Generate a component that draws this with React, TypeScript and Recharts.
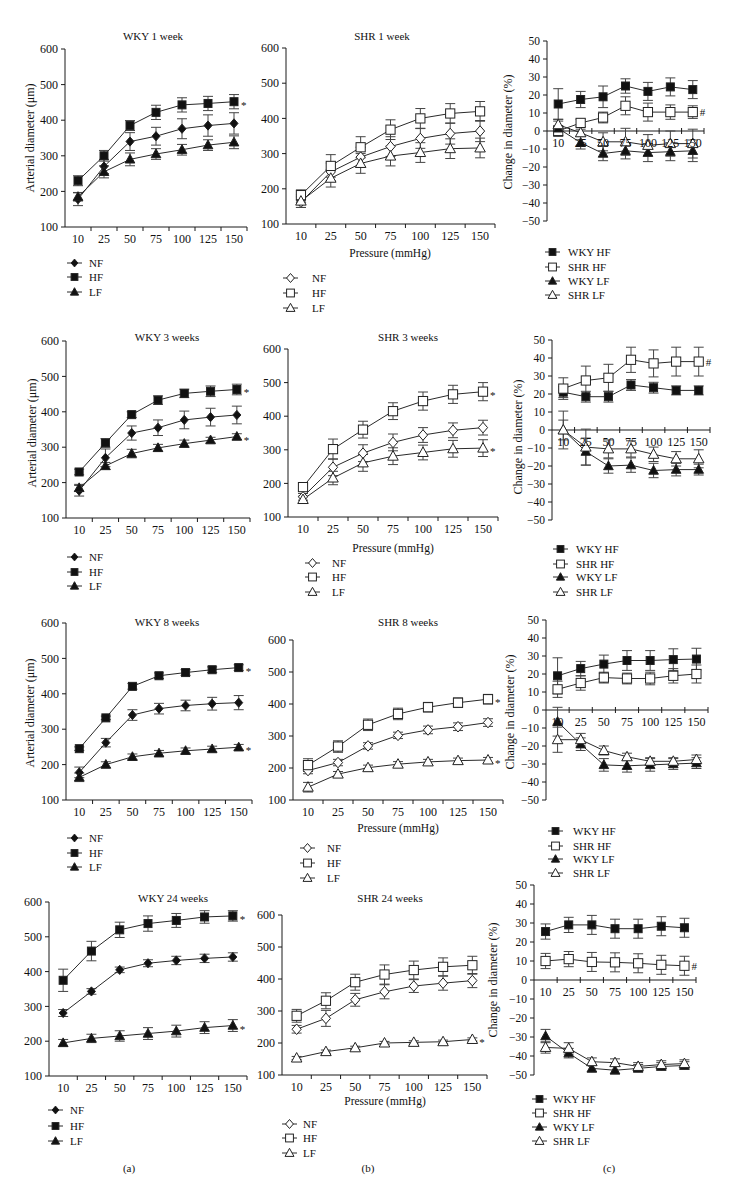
import { LineChart, Line, XAxis, YAxis, ErrorBar, ReferenceLine, LabelList } from "recharts";

const pressures = ["10", "25", "50", "75", "100", "125", "150"];

// WKY 1 week
const wky1NF = [178, 270, 340, 355, 376, 385, 391];
const wky1NFErr = [18, 20, 25, 25, 28, 30, 30];
const wky1HF = [230, 300, 385, 422, 443, 447, 452];
const wky1HFErr = [14, 15, 14, 20, 20, 20, 20];
const wky1LF = [185, 255, 290, 305, 317, 330, 338];
const wky1LFErr = [12, 17, 18, 15, 15, 15, 18];

// SHR 1 week
const shr1NF = [162, 248, 290, 320, 343, 357, 364];
const shr1NFErr = [15, 25, 28, 28, 28, 30, 30];
const shr1HF = [182, 265, 318, 368, 400, 414, 420];
const shr1HFErr = [15, 32, 30, 28, 28, 28, 28];
const shr1LF = [165, 230, 272, 293, 303, 314, 316];
const shr1LFErr = [18, 25, 28, 28, 28, 28, 28];

// change, 1 week
const chg1WkyHF = [15, 17.5, 19, 25, 22, 24.5, 23];
const chg1WkyHFErr = [8.5, 4.5, 6, 4, 5, 5, 5];
const chg1ShrHF = [0, 4.5, 7.5, 14, 10.5, 10.5, 10.5];
const chg1ShrHFErr = [3, 2, 3, 5, 5, 4, 3.5];
const chg1WkyLF = [1.5, -6.5, -12.5, -11, -12, -11.5, -11];
const chg1WkyLFErr = [4, 3.5, 4, 4.5, 5, 5, 6];
const chg1ShrLF = [3.5, -1, -6, -6, -8, -7, -7];
const chg1ShrLFErr = [3, 2, 5, 7.5, 6, 7, 8];

// WKY 3 weeks
const wky3NF = [177, 270, 340, 355, 377, 385, 391];
const wky3NFErr = [15, 25, 20, 22, 25, 25, 25];
const wky3HF = [230, 312, 392, 433, 452, 458, 463];
const wky3HFErr = [8, 12, 8, 12, 12, 15, 15];
const wky3LF = [185, 247, 282, 298, 310, 320, 330];
const wky3LFErr = [10, 10, 12, 10, 10, 8, 8];

// SHR 3 weeks
const shr3NF = [160, 248, 290, 322, 344, 358, 366];
const shr3NFErr = [10, 25, 25, 25, 22, 22, 22];
const shr3HF = [189, 302, 360, 415, 445, 465, 473];
const shr3HFErr = [10, 30, 25, 25, 27, 27, 27];
const shr3LF = [152, 216, 261, 281, 292, 303, 305];
const shr3LFErr = [10, 20, 25, 25, 22, 25, 25];

// change, 3 weeks
const chg3WkyHF = [21, 18.5, 18.5, 25, 23.5, 22, 22];
const chg3WkyHFErr = [3, 3, 3, 3, 3, 2.5, 2.5];
const chg3ShrHF = [23, 27.5, 29, 39, 37, 38, 38];
const chg3ShrHFErr = [6, 8, 7.5, 7, 7.5, 8, 8];
const chg3WkyLF = [0, -12, -20, -19.5, -22.5, -22, -22];
const chg3WkyLFErr = [10.5, 7.5, 4, 4, 4, 3.5, 3];
const chg3ShrLF = [0, -9.5, -10.5, -10.5, -13.5, -16, -16];
const chg3ShrLFErr = [5.5, 10, 5, 4.5, 4, 4, 5];

// WKY 8 weeks
const wky8NF = [178, 262, 340, 358, 367, 372, 375];
const wky8NFErr = [15, 12, 15, 15, 15, 18, 20];
const wky8HF = [245, 332, 421, 451, 460, 468, 474];
const wky8HFErr = [5, 5, 8, 8, 8, 8, 8];
const wky8LF = [164, 200, 222, 232, 239, 244, 249];
const wky8LFErr = [12, 8, 8, 8, 8, 8, 8];

// SHR 8 weeks
const shr8NF = [192, 217, 269, 302, 319, 329, 342];
const shr8NFErr = [10, 10, 10, 10, 12, 12, 12];
const shr8HF = [209, 267, 335, 369, 390, 404, 415];
const shr8HFErr = [20, 18, 18, 18, 15, 15, 15];
const shr8LF = [140, 181, 201, 212, 219, 223, 225];
const shr8LFErr = [15, 8, 8, 8, 8, 8, 8];

// change, 8 weeks
const chg8WkyHF = [19, 23, 25.5, 27.5, 27.5, 28, 28.3];
const chg8WkyHFErr = [10, 4, 5, 5.5, 5.5, 6, 6];
const chg8ShrHF = [11.5, 15, 18, 17.5, 17.5, 19, 20];
const chg8ShrHFErr = [4.5, 4, 3, 3, 3.5, 4, 5];
const chg8WkyLF = [-6.5, -19, -30.5, -31, -30.5, -30, -29.5];
const chg8WkyLFErr = [8, 3.5, 3.5, 3.5, 3.5, 3, 3];
const chg8ShrLF = [-16.5, -16.5, -22.5, -26, -28.5, -28.5, -27.5];
const chg8ShrLFErr = [7, 3.5, 2.5, 2, 2, 2, 2.5];

// WKY 24 weeks
const wky24NF = [281, 343, 405, 424, 432, 438, 442];
const wky24NFErr = [10, 8, 8, 10, 12, 12, 12];
const wky24HF = [375, 459, 520, 538, 547, 557, 560];
const wky24HFErr = [32, 28, 22, 22, 20, 18, 15];
const wky24LF = [195, 208, 215, 222, 229, 239, 245];
const wky24LFErr = [10, 12, 15, 17, 17, 17, 17];

// SHR 24 weeks
const shr24NF = [243, 277, 335, 360, 378, 387, 395];
const shr24NFErr = [12, 25, 20, 22, 20, 22, 22];
const shr24HF = [285, 332, 390, 414, 428, 438, 443];
const shr24HFErr = [20, 25, 25, 30, 28, 28, 28];
const shr24LF = [153, 173, 185, 200, 202, 204, 211];
const shr24LFErr = [5, 5, 5, 5, 5, 5, 5];

// change, 24 weeks
const chg24WkyHF = [25.5, 29, 29, 27, 27, 28.3, 27.5];
const chg24WkyHFErr = [4, 4, 5, 5, 5, 5, 5];
const chg24ShrHF = [10, 11, 9.5, 9.3, 8.8, 8, 7.5];
const chg24ShrHFErr = [4, 4, 5, 5, 5, 5, 5];
const chg24WkyLF = [-29.5, -38.5, -46.5, -47.5, -46.5, -45.5, -45];
const chg24WkyLFErr = [3.5, 2.5, 2, 2, 2, 2, 2];
const chg24ShrLF = [-35.5, -36, -43, -43.5, -45.5, -44.5, -44];
const chg24ShrLFErr = [3, 3, 2, 2, 2, 2, 2];

const diamTicks = [100, 200, 300, 400, 500, 600];
const pctTicks = [-50, -40, -30, -20, -10, 0, 10, 20, 30, 40, 50];

type Sym = "diamond" | "square" | "triangle";
type Series = { values: number[]; err: number[]; sym: Sym; filled: boolean; tag?: string };
type PanelDef = { x0: number; x1: number; yT: number; yB: number; pct: boolean; series: Series[] };

const FONT = "'Liberation Serif', 'Times New Roman', serif";
const INK = "#1a1a1a";
const YW = 44;
const MT = 6;
const MR = 6;
const XH = 26;

const s = (values: number[], err: number[], sym: Sym, filled: boolean, tag?: string): Series => ({ values, err, sym, filled, tag });

const panels: PanelDef[] = [
  { x0: 65, x1: 247, yT: 49, yB: 227, pct: false, series: [s(wky1NF, wky1NFErr, "diamond", true), s(wky1HF, wky1HFErr, "square", true, "*"), s(wky1LF, wky1LFErr, "triangle", true)] },
  { x0: 286, x1: 495, yT: 48, yB: 224, pct: false, series: [s(shr1NF, shr1NFErr, "diamond", false), s(shr1HF, shr1HFErr, "square", false), s(shr1LF, shr1LFErr, "triangle", false)] },
  { x0: 547, x1: 704, yT: 41, yB: 221, pct: true, series: [s(chg1WkyHF, chg1WkyHFErr, "square", true), s(chg1ShrHF, chg1ShrHFErr, "square", false, "#"), s(chg1WkyLF, chg1WkyLFErr, "triangle", true), s(chg1ShrLF, chg1ShrLFErr, "triangle", false)] },
  { x0: 66, x1: 250, yT: 341, yB: 518, pct: false, series: [s(wky3NF, wky3NFErr, "diamond", true), s(wky3HF, wky3HFErr, "square", true, "*"), s(wky3LF, wky3LFErr, "triangle", true, "*")] },
  { x0: 288, x1: 498, yT: 349, yB: 517, pct: false, series: [s(shr3NF, shr3NFErr, "diamond", false), s(shr3HF, shr3HFErr, "square", false, "*"), s(shr3LF, shr3LFErr, "triangle", false, "*")] },
  { x0: 552, x1: 710, yT: 340, yB: 520, pct: true, series: [s(chg3WkyHF, chg3WkyHFErr, "square", true), s(chg3ShrHF, chg3ShrHFErr, "square", false, "#"), s(chg3WkyLF, chg3WkyLFErr, "triangle", true), s(chg3ShrLF, chg3ShrLFErr, "triangle", false)] },
  { x0: 66, x1: 252, yT: 623, yB: 800, pct: false, series: [s(wky8NF, wky8NFErr, "diamond", true), s(wky8HF, wky8HFErr, "square", true, "*"), s(wky8LF, wky8LFErr, "triangle", true, "*")] },
  { x0: 293, x1: 503, yT: 640, yB: 800, pct: false, series: [s(shr8NF, shr8NFErr, "diamond", false), s(shr8HF, shr8HFErr, "square", false, "*"), s(shr8LF, shr8LFErr, "triangle", false, "*")] },
  { x0: 546, x1: 708, yT: 620, yB: 800, pct: true, series: [s(chg8WkyHF, chg8WkyHFErr, "square", true), s(chg8ShrHF, chg8ShrHFErr, "square", false), s(chg8WkyLF, chg8WkyLFErr, "triangle", true), s(chg8ShrLF, chg8ShrLFErr, "triangle", false)] },
  { x0: 49, x1: 247, yT: 902, yB: 1076, pct: false, series: [s(wky24NF, wky24NFErr, "diamond", true), s(wky24HF, wky24HFErr, "square", true, "*"), s(wky24LF, wky24LFErr, "triangle", true, "*")] },
  { x0: 282, x1: 487, yT: 915, yB: 1075, pct: false, series: [s(shr24NF, shr24NFErr, "diamond", false), s(shr24HF, shr24HFErr, "square", false), s(shr24LF, shr24LFErr, "triangle", false, "*")] },
  { x0: 534, x1: 696, yT: 885, yB: 1075, pct: true, series: [s(chg24WkyHF, chg24WkyHFErr, "square", true), s(chg24ShrHF, chg24ShrHFErr, "square", false, "#"), s(chg24WkyLF, chg24WkyLFErr, "triangle", true), s(chg24ShrLF, chg24ShrLFErr, "triangle", false)] },
];

const titles: [string, number, number][] = [
  ["WKY 1 week", 153, 40], ["SHR 1 week", 382, 40],
  ["WKY 3 weeks", 167, 341], ["SHR 3 weeks", 408, 341],
  ["WKY 8 weeks", 167, 626], ["SHR 8 weeks", 408, 626],
  ["WKY 24 weeks", 173, 902], ["SHR 24 weeks", 390, 902],
];
const yLabels: [string, number, number][] = [
  ["Arterial diameter (\u03bcm)", 30, 138], ["Arterial diameter (\u03bcm)", 32, 433], ["Arterial diameter (\u03bcm)", 30, 713],
  ["Change in diameter (%)", 508, 132], ["Change in diameter (%)", 518, 437], ["Change in diameter (%)", 510, 712], ["Change in diameter (%)", 493, 980],
];
const xLabels: [number, number][] = [[390, 257], [393, 552], [398, 832], [385, 1105]];

const wkyItems: [string, Sym, boolean][] = [["NF", "diamond", true], ["HF", "square", true], ["LF", "triangle", true]];
const shrItems: [string, Sym, boolean][] = [["NF", "diamond", false], ["HF", "square", false], ["LF", "triangle", false]];
const chgItems: [string, Sym, boolean][] = [["WKY HF", "square", true], ["SHR HF", "square", false], ["WKY LF", "triangle", true], ["SHR LF", "triangle", false]];

const legends: { items: [string, Sym, boolean][]; lx: number; tx: number; ys: number[] }[] = [
  { items: wkyItems, lx: 67, tx: 89, ys: [263, 277, 292] },
  { items: shrItems, lx: 283, tx: 312, ys: [278, 293, 308] },
  { items: chgItems, lx: 545, tx: 568, ys: [252, 267, 281, 295] },
  { items: wkyItems, lx: 67, tx: 89, ys: [557, 572, 586] },
  { items: shrItems, lx: 305, tx: 332, ys: [563, 577, 592] },
  { items: chgItems, lx: 553, tx: 576, ys: [549, 564, 577, 592] },
  { items: wkyItems, lx: 67, tx: 89, ys: [838, 853, 867] },
  { items: shrItems, lx: 300, tx: 327, ys: [848, 863, 878] },
  { items: chgItems, lx: 548, tx: 573, ys: [831, 846, 859, 873] },
  { items: wkyItems, lx: 48, tx: 70, ys: [1110, 1126, 1141] },
  { items: shrItems, lx: 282, tx: 303, ys: [1124, 1138, 1153] },
  { items: chgItems, lx: 532, tx: 553, ys: [1099, 1113, 1127, 1141] },
];
const panelTags: [string, number][] = [["(a)", 129], ["(b)", 368], ["(c)", 609]];

function Marker({ cx, cy, sym, filled, k = 1 }: { cx: number; cy: number; sym: Sym; filled: boolean; k?: number }) {
  const fill = filled ? "#111" : "#fff";
  const common = { fill, stroke: "#222", strokeWidth: 1 };
  if (sym === "square") {
    const h = (filled ? 4 : 4.6) * k;
    return <rect x={cx - h} y={cy - h} width={2 * h} height={2 * h} {...common} />;
  }
  if (sym === "diamond") {
    const h = (filled ? 4 : 4.6) * k;
    return <polygon points={`${cx},${cy - h * 1.15} ${cx + h},${cy} ${cx},${cy + h * 1.15} ${cx - h},${cy}`} {...common} />;
  }
  const h = (filled ? 4.6 : 5) * k;
  return <polygon points={`${cx},${cy - h * 1.1} ${cx + h * 1.05},${cy + h * 0.8} ${cx - h * 1.05},${cy + h * 0.8}`} {...common} />;
}

function XTick({ x, v, lineY, step, pct }: { x: number; v: number; lineY: number; step: number; pct: boolean }) {
  const tx = x + step / 2;
  return (
    <g>
      <line x1={tx} x2={tx} y1={pct ? lineY - 3 : lineY} y2={lineY + (pct ? 3 : 4)} stroke={INK} />
      <text x={x} y={lineY + 16} textAnchor="middle" fontSize={12} fill="#111" style={{ fill: "#111" }} fontFamily={FONT}>
        {pressures[v]}
      </text>
    </g>
  );
}

const fmtPct = (v: number) => (v < 0 ? `\u2212${Math.abs(v)}` : `${v}`);

function Panel({ def }: { def: PanelDef }) {
  const { x0, x1, yT, yB, pct, series } = def;
  const plotH = yB - yT;
  const step = (x1 - x0) / pressures.length;
  const lineY = pct ? MT + plotH / 2 : MT + plotH;
  const rows = pressures.map((_, i) => {
    const r: Record<string, number> = { i };
    series.forEach((se, k) => {
      r[`v${k}`] = se.values[i];
      r[`e${k}`] = se.err[i];
    });
    return r;
  });

  return (
    <div style={{ position: "absolute", left: x0 - YW, top: yT - MT }}>
      <LineChart
        width={x1 - x0 + YW + MR}
        height={plotH + MT + XH}
        data={rows}
        margin={{ top: MT, right: MR, left: 0, bottom: 0 }}
        style={{ fontFamily: FONT }}
      >
        <XAxis
          dataKey="i"
          type="number"
          domain={[-0.5, 6.5]}
          ticks={[0, 1, 2, 3, 4, 5, 6]}
          interval={0}
          height={XH}
          axisLine={pct ? false : { stroke: INK }}
          tickLine={false}
          tick={(p: any) => <XTick x={p.x} v={p.payload.value} lineY={lineY} step={step} pct={pct} />}
        />
        <YAxis
          type="number"
          width={YW}
          domain={pct ? [-50, 50] : [100, 600]}
          ticks={pct ? pctTicks : diamTicks}
          interval={0}
          allowDataOverflow
          tickSize={4}
          tickMargin={3}
          tickFormatter={pct ? fmtPct : undefined}
          axisLine={{ stroke: INK }}
          tickLine={{ stroke: INK }}
          tick={{ fontSize: pct ? 11.5 : 12, fill: "#111", fontFamily: FONT }}
        />
        {pct && <ReferenceLine y={0} stroke={INK} />}
        {series.map((se, k) => (
          <Line
            key={k}
            dataKey={`v${k}`}
            stroke="#2a2a2a"
            strokeWidth={1}
            isAnimationActive={false}
            activeDot={false}
            dot={(p: any) => <Marker key={`m${k}-${p.index}`} cx={p.cx} cy={p.cy} sym={se.sym} filled={se.filled} />}
          >
            <ErrorBar dataKey={`e${k}`} direction="y" width={5} stroke="#444" strokeWidth={1} />
            {se.tag && (
              <LabelList
                dataKey={`v${k}`}
                content={(p: any) =>
                  p.index === pressures.length - 1 ? (
                    <text x={p.x + 7} y={p.y + (se.tag === "#" ? 4 : 7)} fontSize={11} fill="#111" style={{ fill: "#111" }} fontFamily={FONT}>
                      {se.tag}
                    </text>
                  ) : null
                }
              />
            )}
          </Line>
        ))}
      </LineChart>
    </div>
  );
}

function Overlay() {
  return (
    <svg width={731} height={1195} style={{ position: "absolute", left: 0, top: 0 }} fontFamily={FONT} fill="#111">
      {titles.map(([t, x, y]) => (
        <text key={t} x={x} y={y} textAnchor="middle" fontSize={11}>{t}</text>
      ))}
      {yLabels.map(([t, x, y], i) => (
        <text key={i} x={x} y={y} dy="0.35em" textAnchor="middle" fontSize={12} transform={`rotate(-90 ${x} ${y})`}>{t}</text>
      ))}
      {xLabels.map(([x, y], i) => (
        <text key={i} x={x} y={y} textAnchor="middle" fontSize={11.5}>Pressure (mmHg)</text>
      ))}
      {legends.map((lg, li) => (
        <g key={li}>
          {lg.items.map(([name, sym, filled], j) => (
            <g key={name}>
              <line x1={lg.lx} x2={lg.lx + 15} y1={lg.ys[j]} y2={lg.ys[j]} stroke="#2a2a2a" />
              <Marker cx={lg.lx + 7.5} cy={lg.ys[j]} sym={sym} filled={filled} k={0.85} />
              <text x={lg.tx} y={lg.ys[j] + 4} fontSize={11}>{name}</text>
            </g>
          ))}
        </g>
      ))}
      {panelTags.map(([t, x]) => (
        <text key={t} x={x} y={1172} textAnchor="middle" fontSize={11}>{t}</text>
      ))}
    </svg>
  );
}

export default function App() {
  return (
    <div style={{ position: "absolute", left: 0, top: 0, width: 731, height: 1195, background: "#fff" }}>
      {panels.map((def, i) => (
        <Panel key={i} def={def} />
      ))}
      <Overlay />
    </div>
  );
}
